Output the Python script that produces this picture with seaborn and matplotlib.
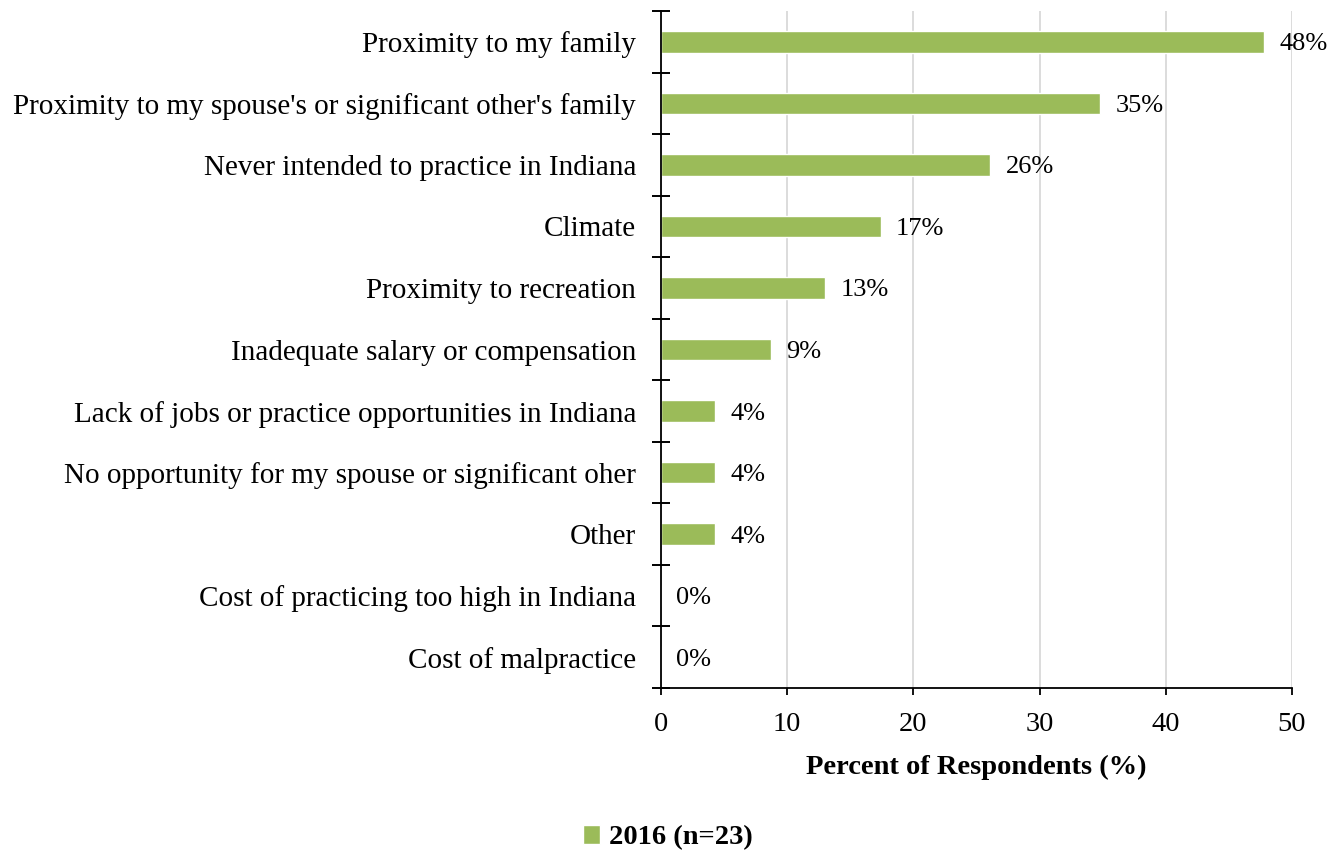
import matplotlib
matplotlib.use("Agg")
import matplotlib.pyplot as plt
from matplotlib.ticker import FixedLocator, NullFormatter
import pandas as pd
import seaborn as sns

# Reasons for leaving Indiana to practice
reasons = [
    "Proximity to my family",
    "Proximity to my spouse's or significant other's family",
    "Never intended to practice in Indiana",
    "Climate",
    "Proximity to recreation",
    "Inadequate salary or compensation",
    "Lack of jobs or practice opportunities in Indiana",
    "No opportunity for my spouse or significant oher",
    "Other",
    "Cost of practicing too high in Indiana",
    "Cost of malpractice",
]
percents = [47.8, 34.8, 26.1, 17.4, 13.0, 8.7, 4.3, 4.3, 4.3, 0.0, 0.0]
series_name = "2016 (n=23)"
x_ticks = [0, 10, 20, 30, 40, 50]

sns.set_theme(style="white")
plt.rcParams["font.family"] = ["Liberation Serif", "DejaVu Serif"]
plt.rcParams["text.color"] = "black"
plt.rcParams["axes.labelcolor"] = "black"

FS_CAT = 21
FS = 20.5
FS_VAL = 19

df = pd.DataFrame({"reason": reasons, "pct": percents, "series": series_name})

fig = plt.figure(figsize=(13.38, 8.52), dpi=100)
ax = fig.add_axes([661 / 1338, 1 - 688 / 852, (1292 - 661) / 1338, (688 - 11) / 852])

sns.barplot(data=df, x="pct", y="reason", hue="series", palette=["#9bbb59"],
            width=0.35, dodge=False, orient="h", ax=ax, saturation=1)

ax.set_xlim(0, 50)
ax.set_ylim(len(reasons) - 0.5, -0.5)
ax.set_xticks(x_ticks)
ax.set_xticklabels([str(t) for t in x_ticks], fontsize=FS, color="black")
ax.xaxis.grid(True, color="#d9d9d9", linewidth=1.3)
ax.set_axisbelow(True)

# category labels at the bars, tick marks on the boundaries between them
ax.tick_params(axis="y", which="major", left=True, length=0, labelsize=FS_CAT,
               labelcolor="black", pad=18)
ax.yaxis.set_minor_locator(FixedLocator([i - 0.5 for i in range(len(reasons) + 1)]))
ax.yaxis.set_minor_formatter(NullFormatter())
ax.tick_params(axis="y", which="minor", left=True, direction="inout", length=12.5,
               width=1.4, color="black")
ax.tick_params(axis="x", which="major", bottom=True, direction="out", length=5,
               width=1.3, color="black", pad=12)

for side in ["top", "right"]:
    ax.spines[side].set_visible(False)
for side in ["left", "bottom"]:
    ax.spines[side].set_color("black")
    ax.spines[side].set_linewidth(1.3)

ax.set_ylabel("")
ax.set_xlabel("Percent of Respondents (%)", fontsize=FS, fontweight="bold",
              labelpad=13, color="black")

# value labels beside each bar
for i, v in enumerate(percents):
    ax.text(v + 1.2, i, f"{v:.0f}%", va="center_baseline", ha="left",
            fontsize=FS_VAL, color="black")

sns.move_legend(ax, "center", bbox_to_anchor=(668 / 1338, 1 - 838 / 852),
                bbox_transform=fig.transFigure,
                title=None, frameon=False, handlelength=0.6, handleheight=0.6,
                handletextpad=0.3, prop={"size": FS, "weight": "bold"})

fig.savefig("out.png", dpi=100)
